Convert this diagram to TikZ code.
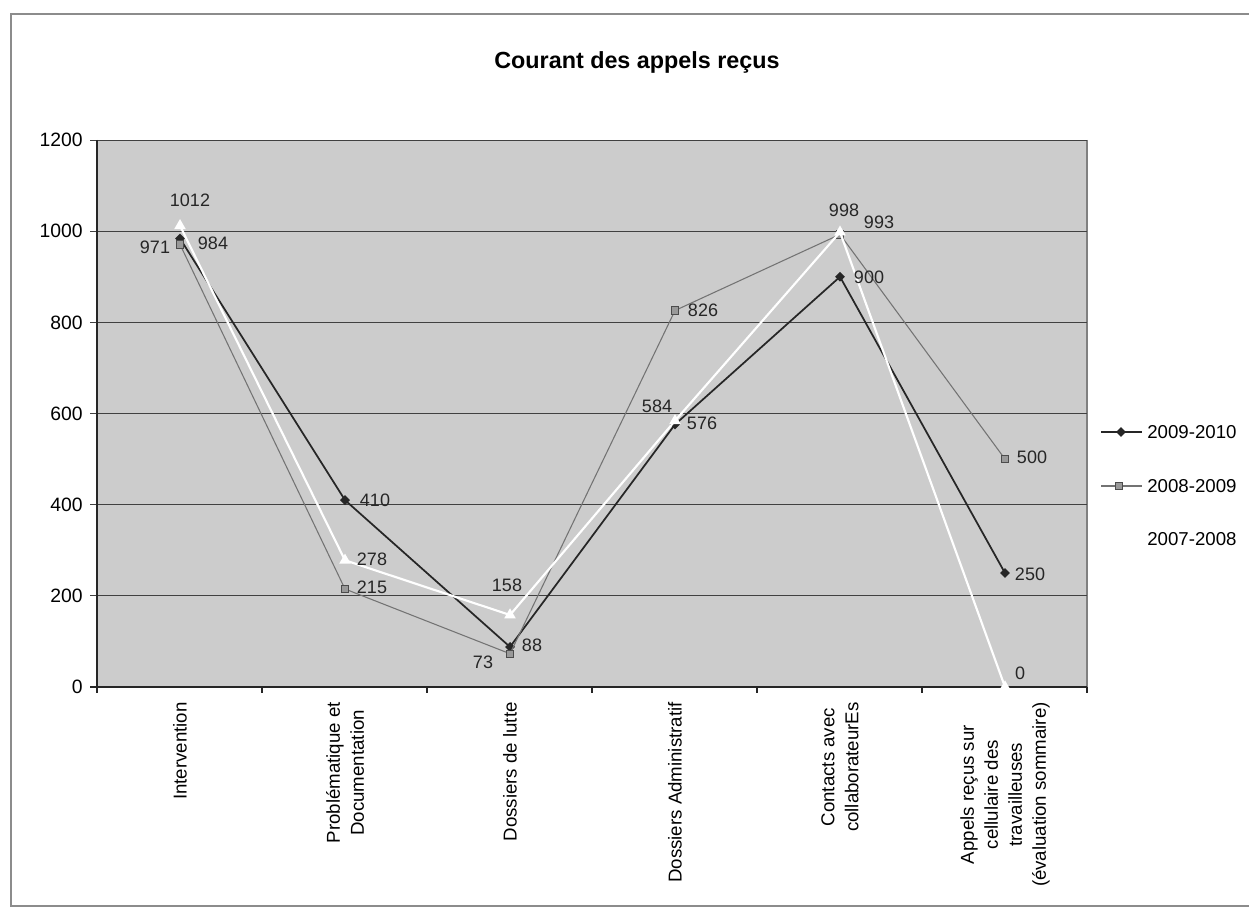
\documentclass[tikz,border=0pt]{standalone}
\usepackage{fontspec}
\setmainfont{Liberation Sans}
\usetikzlibrary{shapes.geometric}
\begin{document}
\begin{tikzpicture}[x=0.75pt,y=-0.75pt,
  frameline/.style={draw=black!45, line width=1.2pt},
  plotbg/.style={fill=black!20},
  gridline/.style={draw=black!75, line width=0.8pt},
  axisline/.style={draw=black!85, line width=1pt},
  sA/.style={draw=black!85, line width=1.3pt},
  sB/.style={draw=black!55, line width=0.8pt},
  sC/.style={draw=white, line width=1.6pt},
  mkA/.style={diamond, fill=black!85, inner sep=0pt, minimum size=7.5pt},
  mkB/.style={rectangle, draw=black!70, fill=black!40, line width=0.6pt, inner sep=0pt, minimum size=5.5pt},
  mkC/.style={regular polygon, regular polygon sides=3, fill=white, inner sep=0pt, minimum size=10pt},
  dlab/.style={font=\fontsize{13.5}{16}\selectfont, text=black!85, inner sep=0pt},
  ylab/.style={font=\fontsize{14.5}{17}\selectfont, anchor=east, inner sep=0pt},
  clab/.style={font=\fontsize{14}{18}\selectfont, rotate=90, anchor=east, align=center, inner sep=0pt},
  leg/.style={font=\fontsize{14}{17}\selectfont, anchor=west, inner sep=0pt},
]
\useasboundingbox (0,0) rectangle (1249,913);
% outer chart frame
\draw[frameline] (1249,14) -- (11,14) -- (11,906) -- (1249,906);
% title
\node[font=\bfseries\fontsize{17.5}{20}\selectfont] (title) at (637,62) {Courant des appels reçus};
% plot area
\fill[plotbg] (97,140) rectangle (1087,687);
\draw[black!50, line width=0.8pt] (1087,140) -- (1087,687);
\foreach \v in {200,400,...,1200} {
  \draw[gridline] (90,{687-0.4558*\v}) -- (1087,{687-0.4558*\v});
}
\draw[axisline] (97,140) -- (97,687);
\draw[axisline] (90,687) -- (1087,687);
\foreach \k in {0,...,6} {
  \draw[axisline] ({97+165*\k},687) -- ({97+165*\k},693);
}
% y labels
\foreach \v in {0,200,...,1200} {
  \node[ylab] (y\v) at (83,{687-0.4558*\v}) {\v};
}
% category labels
\node[clab] (c1) at (180,702) {Intervention};
\node[clab] (c2) at (345,702) {Problématique et\\Documentation};
\node[clab] (c3) at (510,702) {Dossiers de lutte};
\node[clab] (c4) at (675,702) {Dossiers Administratif};
\node[clab] (c5) at (840,702) {Contacts avec\\collaborateurEs};
\node[clab] (c6) at (1005,702) {Appels reçus sur\\cellulaire des\\travailleuses\\(évaluation sommaire)};
% data coordinates
\foreach \v [count=\i] in {984,410,88,576,900,250} {\coordinate (A\i) at ({15+165*\i},{687-0.4558*\v});}
\foreach \v [count=\i] in {971,215,73,826,993,500} {\coordinate (B\i) at ({15+165*\i},{687-0.4558*\v});}
\foreach \v [count=\i] in {1012,278,158,584,998,0} {\coordinate (C\i) at ({15+165*\i},{687-0.4558*\v});}
% series 2009-2010
\draw[sA] (A1) -- (A2) -- (A3) -- (A4) -- (A5) -- (A6);
\foreach \i in {1,...,6} {\node[mkA] (mA\i) at (A\i) {};}
% series 2008-2009
\draw[sB] (B1) -- (B2) -- (B3) -- (B4) -- (B5) -- (B6);
\foreach \i in {1,...,6} {\node[mkB] (mB\i) at (B\i) {};}
% series 2007-2008
\draw[sC] (C1) -- (C2) -- (C3) -- (C4) -- (C5) -- (C6);
\foreach \i in {1,...,6} {\node[mkC] (mC\i) at (C\i) {};}
% data labels
\node[dlab] (lA1) at (213,243) {984};
\node[dlab] (lA2) at (375,500) {410};
\node[dlab] (lA3) at (532,645) {88};
\node[dlab] (lA4) at (702,423) {576};
\node[dlab] (lA5) at (869,277) {900};
\node[dlab] (lA6) at (1030,574) {250};
\node[dlab] (lB1) at (155,247) {971};
\node[dlab] (lB2) at (372,587) {215};
\node[dlab] (lB3) at (483,662) {73};
\node[dlab] (lB4) at (703,310) {826};
\node[dlab] (lB5) at (879,222) {993};
\node[dlab] (lB6) at (1032,457) {500};
\node[dlab] (lC1) at (190,200) {1012};
\node[dlab] (lC2) at (372,559) {278};
\node[dlab] (lC3) at (507,585) {158};
\node[dlab] (lC4) at (657,406) {584};
\node[dlab] (lC5) at (844,210) {998};
\node[dlab] (lC6) at (1020,673) {0};
% legend
\coordinate (gA1) at (1101,432); \coordinate (gA2) at (1142,432);
\draw[sA] (gA1) -- (gA2);
\node[mkA] (gmA) at (1121,432) {};
\node[leg] (gtA) at (1147,432) {2009-2010};
\coordinate (gB1) at (1101,486); \coordinate (gB2) at (1142,486);
\draw[sB] (gB1) -- (gB2);
\node[mkB] (gmB) at (1119,486) {};
\node[leg] (gtB) at (1147,486) {2008-2009};
\coordinate (gC1) at (1101,539); \coordinate (gC2) at (1142,539);
\draw[sC] (gC1) -- (gC2);
\node[mkC] (gmC) at (1121,539) {};
\node[leg] (gtC) at (1147,539) {2007-2008};
\end{tikzpicture}
\end{document}
